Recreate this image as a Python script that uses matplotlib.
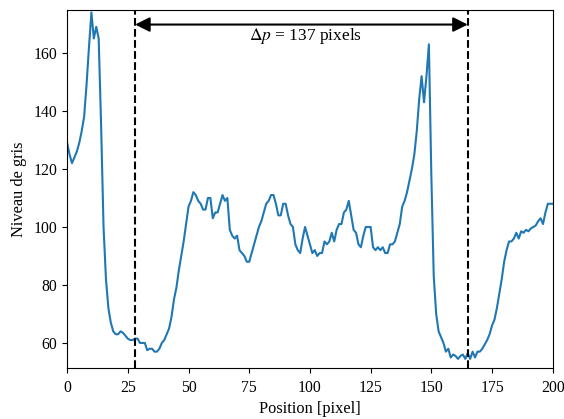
import numpy as np
import matplotlib
matplotlib.use("Agg")
import matplotlib.pyplot as plt

plt.rcParams["font.family"] = ["Liberation Serif", "DejaVu Serif"]
plt.rcParams["mathtext.fontset"] = "stix"

# grey level profile, one value per pixel position
niveau = [129, 125, 122, 124, 126, 129, 133, 138, 149, 162,
          174, 165, 169, 165, 135, 100, 82, 72, 67, 64,
          63, 63, 64, 63.5, 62.5, 61.5, 61, 61, 61.5, 61.5,
          60, 60, 60, 57.5, 58, 58, 57, 57, 58, 60,
          61, 63, 65, 69, 75, 79, 85, 90, 95, 101,
          107, 109, 112, 111, 109, 108, 106, 106, 110, 110,
          103, 105, 105, 108, 111, 109, 110, 99, 97, 96,
          97, 92, 91, 90, 88, 88, 91, 94, 97, 100,
          102, 105, 108, 109, 111, 111, 108, 104, 104, 108,
          108, 104, 101, 100, 94, 92, 91, 96, 100, 97,
          94, 91, 92, 90, 91, 91, 95, 94, 95, 98,
          95, 99, 101, 101, 105, 106, 109, 104, 99, 98,
          94, 93, 97, 100, 100, 100, 93, 92, 93, 92,
          93, 91, 91, 94, 94, 95, 98, 101, 107, 109,
          112, 116, 120, 125, 133, 144, 152, 143, 152, 163,
          118, 83, 70, 64, 62, 60, 57, 58, 55, 56,
          55.5, 54.5, 55.5, 56, 54.5, 56.5, 54.5, 57, 55, 57,
          57, 58, 59.5, 61, 63, 66, 68, 72, 77, 82,
          88, 92, 95, 95, 96, 98, 96, 98.5, 98, 99,
          98.5, 99.5, 100, 100.5, 102, 103, 101, 105, 108, 108,
          108]
position = np.arange(len(niveau))

bord_gauche = 28
bord_droit = 165

fig = plt.figure(figsize=(5.64, 4.19), dpi=100)
ax = fig.add_axes([0.119, 0.122, 0.861, 0.854])

ax.plot(position, niveau, color="tab:blue", lw=1.5)
ax.axvline(bord_gauche, color="black", ls="--", lw=1.5)
ax.axvline(bord_droit, color="black", ls="--", lw=1.5)

ax.annotate("", xy=(bord_gauche, 169.8), xytext=(bord_droit, 169.8),
            arrowprops=dict(arrowstyle="<|-|>", color="black", lw=1.5,
                            mutation_scale=22, shrinkA=0, shrinkB=0))
ax.text((bord_gauche + bord_droit) / 2 + 1.5, 165.8,
        r"$\Delta p$ = %d pixels" % (bord_droit - bord_gauche),
        ha="center", va="center", fontsize=12.5)

ax.set_xlim(0, 200)
ax.set_ylim(51.4, 174.8)
ax.set_xticks([0, 25, 50, 75, 100, 125, 150, 175, 200])
ax.set_yticks([60, 80, 100, 120, 140, 160])
ax.tick_params(labelsize=11.3)
ax.tick_params(axis="x", pad=5)
ax.set_xlabel("Position [pixel]", fontsize=11.8, labelpad=4)
ax.set_ylabel("Niveau de gris", fontsize=11.8, labelpad=5)

fig.savefig("out.png", dpi=100)
